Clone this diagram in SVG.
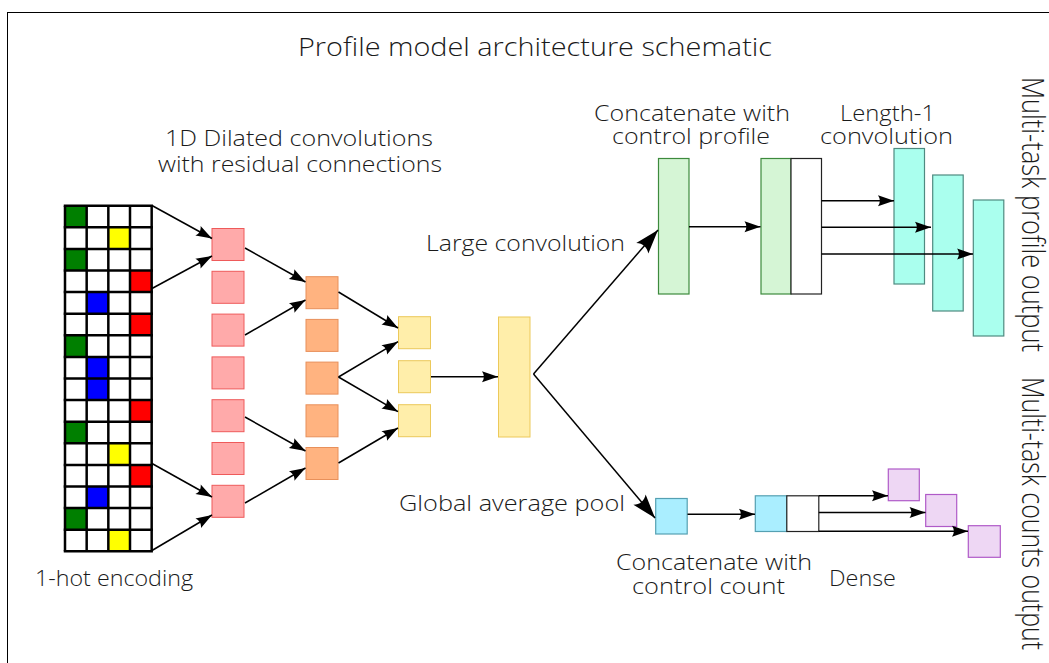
<svg xmlns="http://www.w3.org/2000/svg" width="1049" height="663" viewBox="0 0 1049 663">
<style>
text{font-family:"Open Sans","Noto Sans","DejaVu Sans",sans-serif;font-weight:300;fill:#1a1a1a;font-size:22px}
.title{font-size:25px}
.conn line,.conn path{stroke:#000;stroke-width:1.5;fill:none}
.sm{marker-end:url(#ah)}
.lg{marker-end:url(#ahL)}
.red{fill:#ffaaaa;stroke:#ee5a5a;stroke-width:1}
.org{fill:#ffb380;stroke:#e8905a;stroke-width:1}
.yel{fill:#ffeeaa;stroke:#ecc95a;stroke-width:1}
.grn{fill:#d5f5d5;stroke:#3d8a3d;stroke-width:1.2}
.wht{fill:#fff;stroke:#222;stroke-width:1.2}
.teal{fill:#aaffee;stroke:#4f8a80;stroke-width:1.2}
.cyan{fill:#aaeeff;stroke:#55a0b2;stroke-width:1.2}
.pur{fill:#eed7f4;stroke:#b05ac8;stroke-width:1.2}
.gl{stroke:#000;stroke-width:2.5}
</style>
<defs>
<marker id="ah" markerUnits="userSpaceOnUse" viewBox="-17 -7 18 14" markerWidth="18" markerHeight="14" refX="0" refY="0" orient="auto">
<path d="M0,0 L-16,-5.5 C-13.5,-2 -13.5,2 -16,5.5 Z" fill="#000"/>
</marker>
<marker id="ahL" markerUnits="userSpaceOnUse" viewBox="-25 -9 26 18" markerWidth="26" markerHeight="18" refX="0" refY="0" orient="auto">
<path d="M0,0 L-24,-8 C-20,-3 -20,3 -24,8 Z" fill="#000"/>
</marker>
</defs>
<rect x="0" y="0" width="1049" height="663" fill="#fff"/>
<rect x="7.5" y="12.5" width="1100" height="700" fill="none" stroke="#000" stroke-width="1"/>

<g id="title"><text class="title" x="298" y="56" textLength="474" lengthAdjust="spacingAndGlyphs">Profile model architecture schematic</text></g>

<g id="onehot">
<rect x="65" y="205.7" width="86.67" height="345.6" fill="#fff"/>
<g id="cells">
<rect x="65" y="205.7" width="21.67" height="21.6" fill="#007f00"/>
<rect x="108.33" y="227.3" width="21.67" height="21.6" fill="#ffff00"/>
<rect x="65" y="248.9" width="21.67" height="21.6" fill="#007f00"/>
<rect x="130" y="270.5" width="21.67" height="21.6" fill="#ff0000"/>
<rect x="86.67" y="292.1" width="21.67" height="21.6" fill="#0000ff"/>
<rect x="130" y="313.7" width="21.67" height="21.6" fill="#ff0000"/>
<rect x="65" y="335.3" width="21.67" height="21.6" fill="#007f00"/>
<rect x="86.67" y="356.9" width="21.67" height="21.6" fill="#0000ff"/>
<rect x="86.67" y="378.5" width="21.67" height="21.6" fill="#0000ff"/>
<rect x="130" y="400.1" width="21.67" height="21.6" fill="#ff0000"/>
<rect x="65" y="421.7" width="21.67" height="21.6" fill="#007f00"/>
<rect x="108.33" y="443.3" width="21.67" height="21.6" fill="#ffff00"/>
<rect x="130" y="464.9" width="21.67" height="21.6" fill="#ff0000"/>
<rect x="86.67" y="486.5" width="21.67" height="21.6" fill="#0000ff"/>
<rect x="65" y="508.1" width="21.67" height="21.6" fill="#007f00"/>
<rect x="108.33" y="529.7" width="21.67" height="21.6" fill="#ffff00"/>
</g>
<g class="gl">
<line x1="65" y1="205.7" x2="65" y2="551.3"/>
<line x1="86.67" y1="205.7" x2="86.67" y2="551.3"/>
<line x1="108.33" y1="205.7" x2="108.33" y2="551.3"/>
<line x1="130" y1="205.7" x2="130" y2="551.3"/>
<line x1="151.67" y1="205.7" x2="151.67" y2="551.3"/>
<line x1="63.75" y1="205.7" x2="152.9" y2="205.7"/>
<line x1="63.75" y1="227.3" x2="152.9" y2="227.3"/>
<line x1="63.75" y1="248.9" x2="152.9" y2="248.9"/>
<line x1="63.75" y1="270.5" x2="152.9" y2="270.5"/>
<line x1="63.75" y1="292.1" x2="152.9" y2="292.1"/>
<line x1="63.75" y1="313.7" x2="152.9" y2="313.7"/>
<line x1="63.75" y1="335.3" x2="152.9" y2="335.3"/>
<line x1="63.75" y1="356.9" x2="152.9" y2="356.9"/>
<line x1="63.75" y1="378.5" x2="152.9" y2="378.5"/>
<line x1="63.75" y1="400.1" x2="152.9" y2="400.1"/>
<line x1="63.75" y1="421.7" x2="152.9" y2="421.7"/>
<line x1="63.75" y1="443.3" x2="152.9" y2="443.3"/>
<line x1="63.75" y1="464.9" x2="152.9" y2="464.9"/>
<line x1="63.75" y1="486.5" x2="152.9" y2="486.5"/>
<line x1="63.75" y1="508.1" x2="152.9" y2="508.1"/>
<line x1="63.75" y1="529.7" x2="152.9" y2="529.7"/>
<line x1="63.75" y1="551.3" x2="152.9" y2="551.3"/>
</g>
<text x="35" y="586" textLength="158" lengthAdjust="spacingAndGlyphs">1-hot encoding</text>
</g>

<g id="dilated">
<rect class="red" x="212" y="228.5" width="32" height="32"/>
<rect class="red" x="212" y="271.3" width="32" height="32"/>
<rect class="red" x="212" y="314.1" width="32" height="32"/>
<rect class="red" x="212" y="356.9" width="32" height="32"/>
<rect class="red" x="212" y="399.7" width="32" height="32"/>
<rect class="red" x="212" y="442.5" width="32" height="32"/>
<rect class="red" x="212" y="485.3" width="32" height="32"/>
<rect class="org" x="306" y="276.7" width="32" height="32"/>
<rect class="org" x="306" y="319.4" width="32" height="32"/>
<rect class="org" x="306" y="362.1" width="32" height="32"/>
<rect class="org" x="306" y="404.8" width="32" height="32"/>
<rect class="org" x="306" y="447.5" width="32" height="32"/>
<rect class="yel" x="398.5" y="316.7" width="32" height="32"/>
<rect class="yel" x="398.5" y="360.7" width="32" height="32"/>
<rect class="yel" x="398.5" y="404.7" width="32" height="32"/>
<text x="165" y="146" textLength="268" lengthAdjust="spacingAndGlyphs">1D Dilated convolutions</text>
<text x="158" y="172" textLength="284" lengthAdjust="spacingAndGlyphs">with residual connections</text>
</g>

<g id="large-conv">
<rect class="yel" x="498.5" y="317" width="31.5" height="120"/>
<text x="426" y="250.5" textLength="199" lengthAdjust="spacingAndGlyphs">Large convolution</text>
</g>

<g id="concat-profile">
<rect class="grn" x="658.5" y="158.5" width="30.5" height="135.5"/>
<rect class="grn" x="761" y="158.5" width="30" height="135.5"/>
<rect class="wht" x="791" y="158.5" width="30.5" height="135.5"/>
<text x="594" y="121" textLength="196" lengthAdjust="spacingAndGlyphs">Concatenate with</text>
<text x="612" y="143.5" textLength="158" lengthAdjust="spacingAndGlyphs">control profile</text>
</g>

<g id="length1-conv">
<rect class="teal" x="894" y="148.5" width="30.5" height="135.5"/>
<rect class="teal" x="932.7" y="175" width="30.5" height="136"/>
<rect class="teal" x="973.3" y="200" width="30.5" height="136"/>
<text x="840" y="121" textLength="95" lengthAdjust="spacingAndGlyphs">Length-1</text>
<text x="820" y="143.5" textLength="133" lengthAdjust="spacingAndGlyphs">convolution</text>
</g>

<g id="profile-output">
<text transform="translate(1021.5,77) rotate(90) scale(1,1.42)" x="0" y="0" textLength="275" lengthAdjust="spacingAndGlyphs">Multi-task profile output</text>
</g>

<g id="global-pool">
<rect class="cyan" x="655.7" y="498.5" width="31.5" height="35.5"/>
<text x="399" y="511" textLength="226" lengthAdjust="spacingAndGlyphs">Global average pool</text>
</g>

<g id="concat-count">
<rect class="cyan" x="755.3" y="495.8" width="31.5" height="35.7"/>
<rect class="wht" x="786.8" y="495.8" width="32" height="35.7"/>
<text x="616" y="570" textLength="196" lengthAdjust="spacingAndGlyphs">Concatenate with</text>
<text x="632" y="594" textLength="153" lengthAdjust="spacingAndGlyphs">control count</text>
</g>

<g id="dense">
<rect class="pur" x="888.3" y="469" width="31" height="31.7"/>
<rect class="pur" x="925.7" y="494.5" width="31" height="32"/>
<rect class="pur" x="968.3" y="525.7" width="32" height="31.6"/>
<text x="829" y="586" textLength="67" lengthAdjust="spacingAndGlyphs">Dense</text>
</g>

<g id="counts-output">
<text transform="translate(1021.5,377) rotate(90) scale(1,1.42)" x="0" y="0" textLength="273" lengthAdjust="spacingAndGlyphs">Multi-task counts output</text>
</g>

<g id="connectors" class="conn">
<line class="sm" x1="152" y1="205.5" x2="212" y2="238.5"/>
<line class="sm" x1="152" y1="288.5" x2="212" y2="256"/>
<line class="sm" x1="152" y1="463.5" x2="212" y2="497"/>
<line class="sm" x1="152" y1="550.5" x2="212" y2="515"/>
<line class="sm" x1="245" y1="248" x2="305.5" y2="282"/>
<line class="sm" x1="245" y1="335" x2="305.5" y2="300"/>
<line class="sm" x1="245" y1="417" x2="305.5" y2="451"/>
<line class="sm" x1="245" y1="503" x2="305.5" y2="468"/>
<line class="sm" x1="338.5" y1="292" x2="398" y2="328"/>
<line class="sm" x1="338.5" y1="377" x2="398" y2="341.7"/>
<line class="sm" x1="338.5" y1="377" x2="398" y2="411.7"/>
<line class="sm" x1="338.5" y1="463" x2="398" y2="428"/>
<line class="sm" x1="431" y1="376.7" x2="498" y2="376.7"/>
<line class="lg" x1="533.5" y1="374" x2="658" y2="230"/>
<line class="lg" x1="533.5" y1="374" x2="655" y2="518"/>
<line class="sm" x1="689" y1="226.7" x2="760.5" y2="226.7"/>
<line class="sm" x1="821.5" y1="200.7" x2="894" y2="200.7"/>
<line class="sm" x1="821.5" y1="227.3" x2="931" y2="227.3"/>
<line class="sm" x1="821.5" y1="254" x2="973" y2="254"/>
<line class="sm" x1="687.5" y1="514.3" x2="755" y2="514.3"/>
<line class="sm" x1="818.8" y1="495.8" x2="888" y2="495.8"/>
<line class="sm" x1="818.8" y1="512.5" x2="925.5" y2="512.5"/>
<line class="sm" x1="818.8" y1="531.3" x2="968" y2="531.3"/>
</g>
</svg>
